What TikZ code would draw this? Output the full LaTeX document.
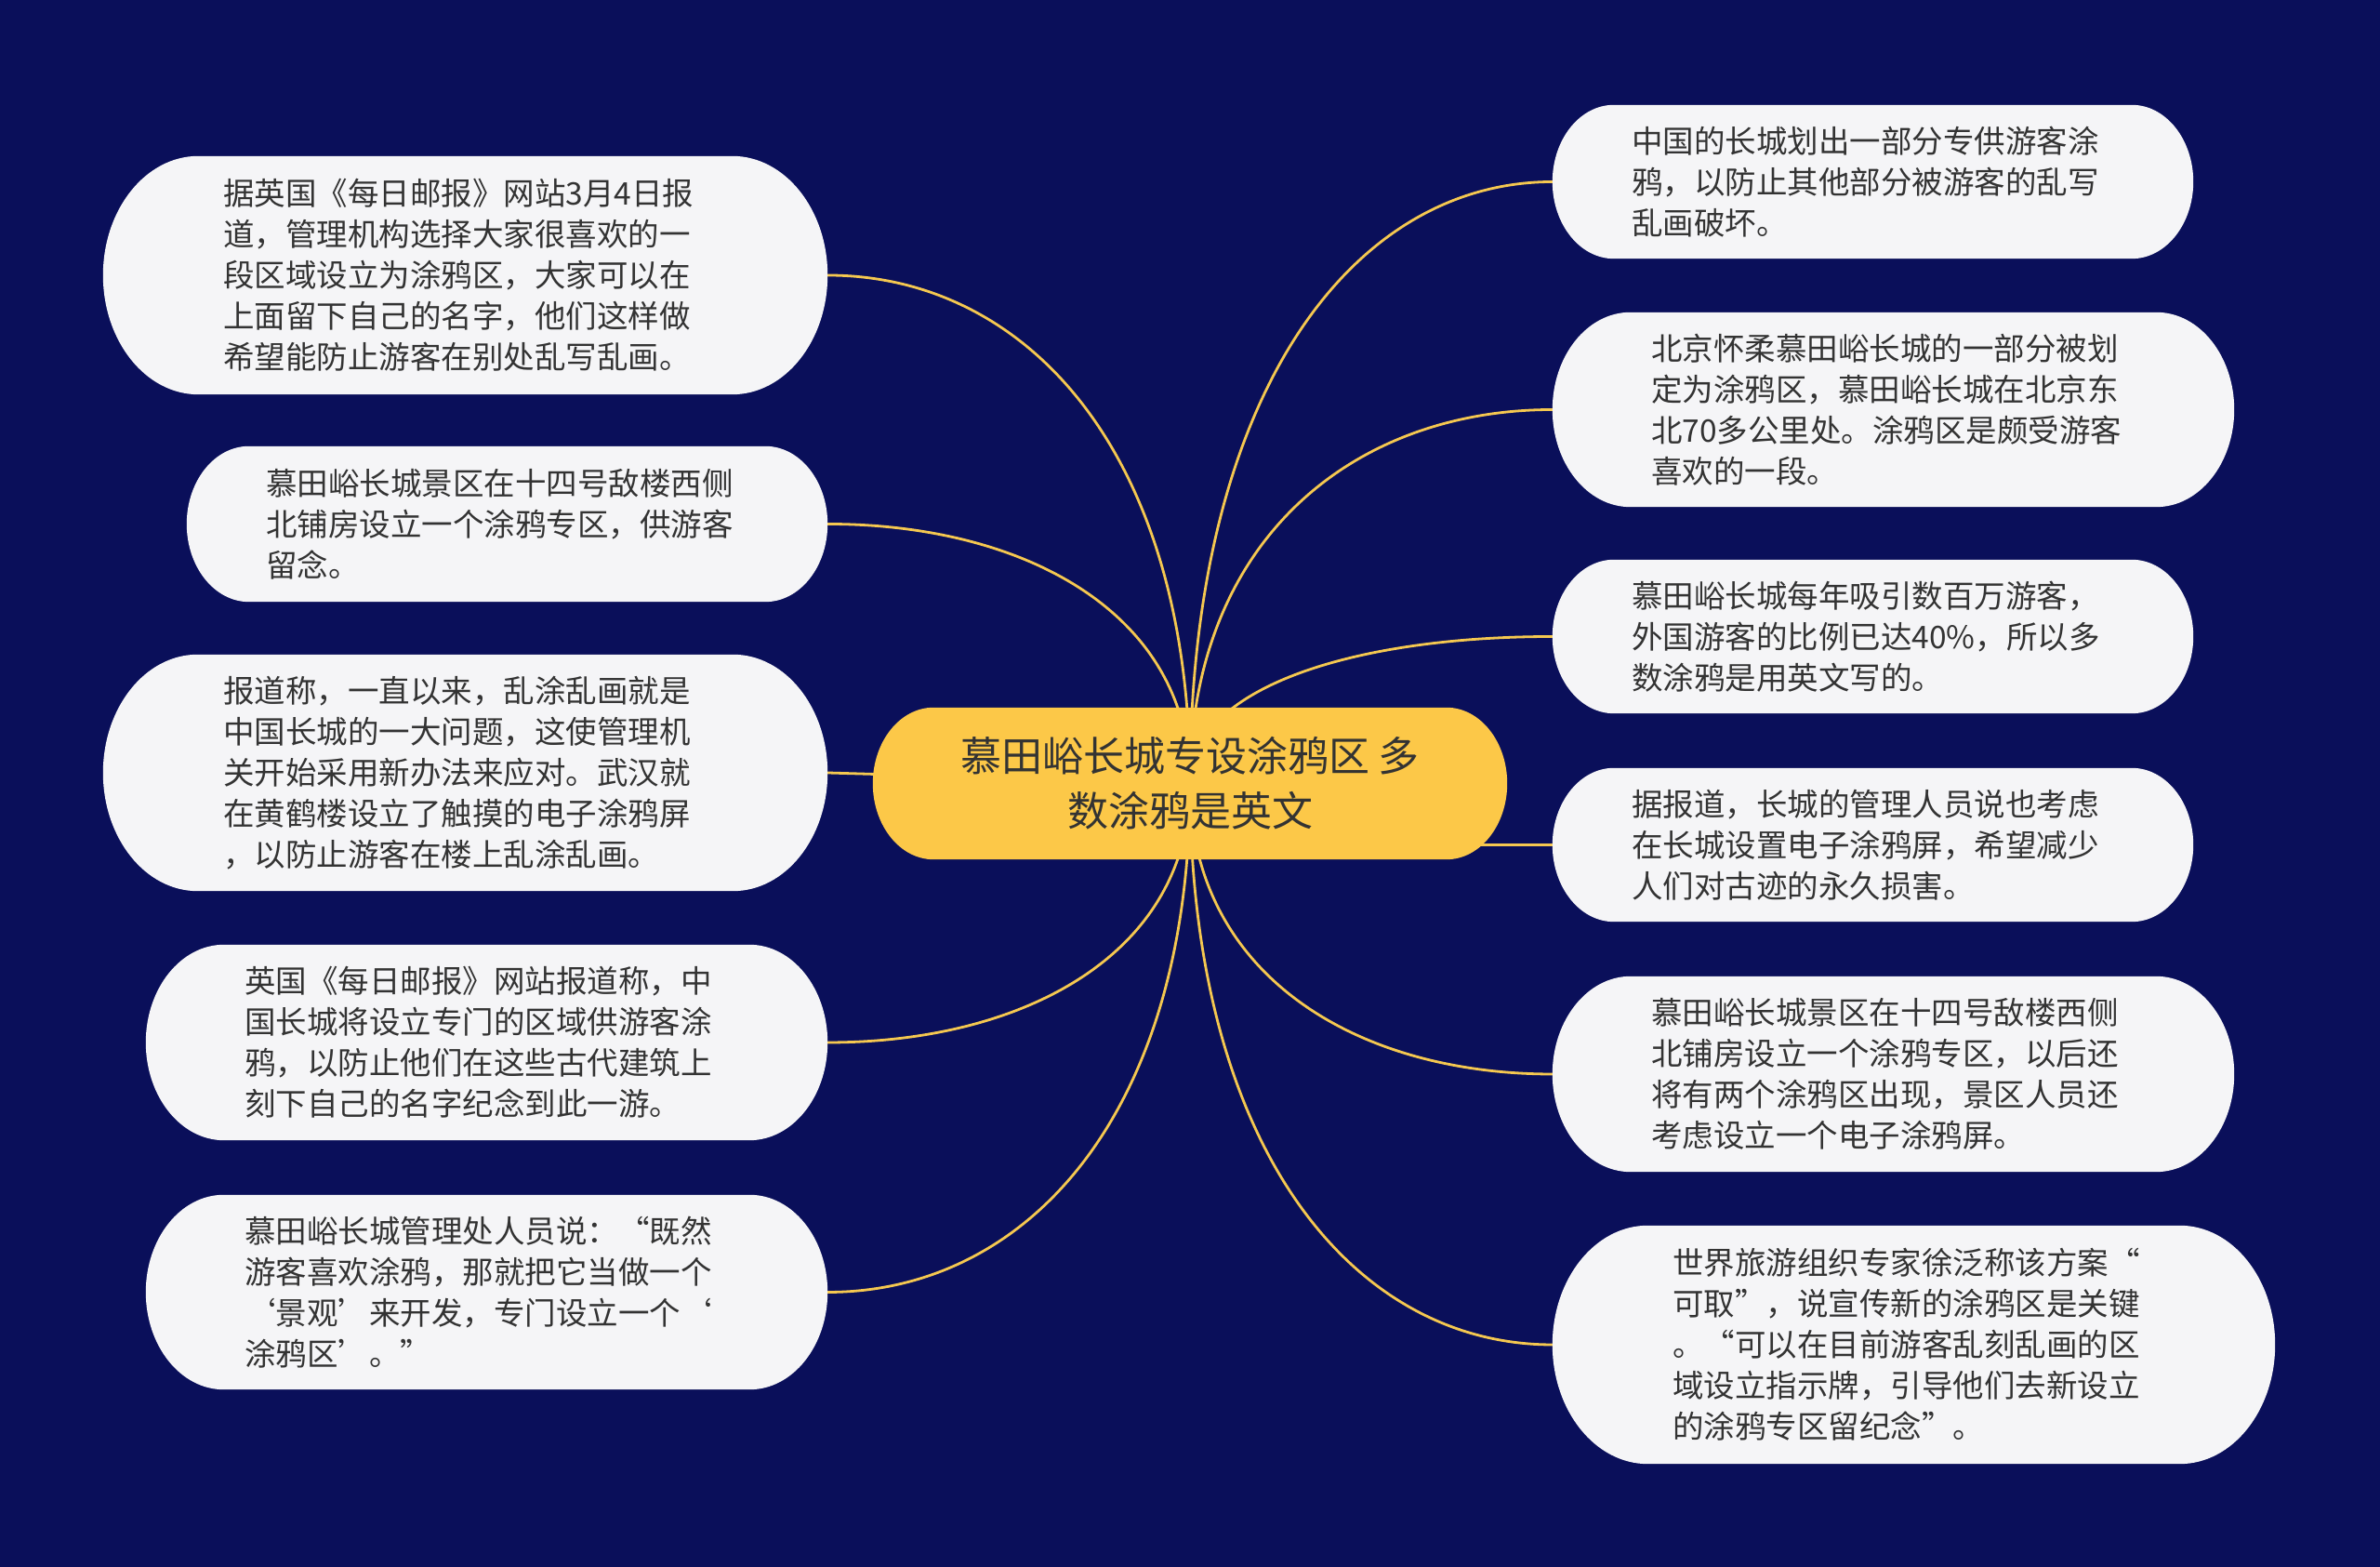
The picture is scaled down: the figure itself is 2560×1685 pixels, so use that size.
\documentclass[tikz,border=0pt]{standalone}
\usepackage{fontspec}
\setmainfont{Noto Sans CJK SC}
\usetikzlibrary{calc}
\definecolor{bgc}{RGB}{10,15,90}
\definecolor{pillc}{RGB}{245,245,247}
\definecolor{txtc}{RGB}{51,51,51}
\definecolor{hubc}{RGB}{252,200,72}
\definecolor{linec}{RGB}{245,200,80}
\pgfdeclarelayer{bg}
\pgfdeclarelayer{pill}
\pgfsetlayers{bg,pill,main}
\newcommand\pillshape[2]{%
  \fill[#2] let \p1=(#1.north west), \p2=(#1.south east),
    \n1={0.5*(\y1-\y2)}, \n2={0.8*\n1} in
    ({\x1+\n2},\y1) -- ({\x2-\n2},\y1)
    arc[start angle=90,end angle=-90,x radius=\n2,y radius=\n1]
    -- ({\x1+\n2},\y2)
    arc[start angle=270,end angle=90,x radius=\n2,y radius=\n1] -- cycle;}
% curved connector from anchor #1 to hub centre #2
\newcommand\branch[2]{%
  \draw[conn] (#1) .. controls ($(#1)!0.55!(#2 |- #1)$) and ($(#2 |- #1)!0.35!(#2)$) .. (#2);}
\begin{document}
\begin{tikzpicture}[x=1pt,y=1pt,
  leaf/.style n args={3}{align=left, text width=#1pt, inner xsep=#2pt,
    inner ysep=0pt, minimum height=#3pt,
    font=\fontsize{33.5}{44}\selectfont, text=txtc},
  hub/.style={align=center, inner sep=0pt, minimum width=682pt,
    minimum height=163pt, font=\fontsize{44}{59}\selectfont, text=txtc},
  conn/.style={draw=linec, line width=2.8pt}]
\useasboundingbox (0,0) rectangle (2560,1685);

% hub
\node[hub] (c) at (1280,842.5) {慕田峪长城专设涂鸦区 多\\数涂鸦是英文};

% left leaves
\node[leaf={521}{129}{256}] (l1) at (500.5,1389) {据英国《每日邮报》网站3月4日报\\道，管理机构选择大家很喜欢的一\\段区域设立为涂鸦区，大家可以在\\上面留下自己的名字，他们这样做\\希望能防止游客在别处乱写乱画。};
\node[leaf={519}{85}{167}] (l2) at (545.5,1121.5) {慕田峪长城景区在十四号敌楼西侧\\北铺房设立一个涂鸦专区，供游客\\留念。};
\node[leaf={521}{129}{254}] (l3) at (500.5,854) {报道称，一直以来，乱涂乱画就是\\中国长城的一大问题，这使管理机\\关开始采用新办法来应对。武汉就\\在黄鹤楼设立了触摸的电子涂鸦屏\\，以防止游客在楼上乱涂乱画。};
\node[leaf={521}{106}{210}] (l4) at (523.5,564) {英国《每日邮报》网站报道称，中\\国长城将设立专门的区域供游客涂\\鸦，以防止他们在这些古代建筑上\\刻下自己的名字纪念到此一游。};
\node[leaf={521}{106}{209}] (l5) at (523.5,295.5) {慕田峪长城管理处人员说：“既然\\游客喜欢涂鸦，那就把它当做一个\\‘景观’来开发，专门设立一个‘\\涂鸦区’。”};

% right leaves
\node[leaf={519}{85}{165}] (r1) at (2014.5,1489.5) {中国的长城划出一部分专供游客涂\\鸦，以防止其他部分被游客的乱写\\乱画破坏。};
\node[leaf={521}{106}{209}] (r2) at (2036.5,1244.5) {北京怀柔慕田峪长城的一部分被划\\定为涂鸦区，慕田峪长城在北京东\\北70多公里处。涂鸦区是颇受游客\\喜欢的一段。};
\node[leaf={519}{85}{165}] (r3) at (2014.5,1000.5) {慕田峪长城每年吸引数百万游客，\\外国游客的比例已达40\%，所以多\\数涂鸦是用英文写的。};
\node[leaf={519}{85}{165}] (r4) at (2014.5,776.5) {据报道，长城的管理人员说也考虑\\在长城设置电子涂鸦屏，希望减少\\人们对古迹的永久损害。};
\node[leaf={521}{106}{210}] (r5) at (2036.5,530) {慕田峪长城景区在十四号敌楼西侧\\北铺房设立一个涂鸦专区，以后还\\将有两个涂鸦区出现，景区人员还\\考虑设立一个电子涂鸦屏。};
\node[leaf={519}{129}{256}] (r6) at (2058.5,239) {世界旅游组织专家徐泛称该方案“\\可取”，说宣传新的涂鸦区是关键\\。“可以在目前游客乱刻乱画的区\\域设立指示牌，引导他们去新设立\\的涂鸦专区留纪念”。};

% pills
\begin{pgfonlayer}{pill}
  \pillshape{c}{hubc}
  \pillshape{l1}{pillc}
  \pillshape{l2}{pillc}
  \pillshape{l3}{pillc}
  \pillshape{l4}{pillc}
  \pillshape{l5}{pillc}
  \pillshape{r1}{pillc}
  \pillshape{r2}{pillc}
  \pillshape{r3}{pillc}
  \pillshape{r4}{pillc}
  \pillshape{r5}{pillc}
  \pillshape{r6}{pillc}
\end{pgfonlayer}

% background and connectors
\begin{pgfonlayer}{bg}
  \fill[bgc] (0,0) rectangle (2560,1685);
  \branch{l1.east}{c.center}
  \branch{l2.east}{c.center}
  \draw[conn] (l3.east) -- (c.center);
  \branch{l4.east}{c.center}
  \branch{l5.east}{c.center}
  \branch{r1.west}{c.center}
  \branch{r2.west}{c.center}
  \branch{r3.west}{c.center}
  \draw[conn] (r4.west) -- (c.center |- r4.west);
  \branch{r5.west}{c.center}
  \branch{r6.west}{c.center}
\end{pgfonlayer}
\end{tikzpicture}
\end{document}
